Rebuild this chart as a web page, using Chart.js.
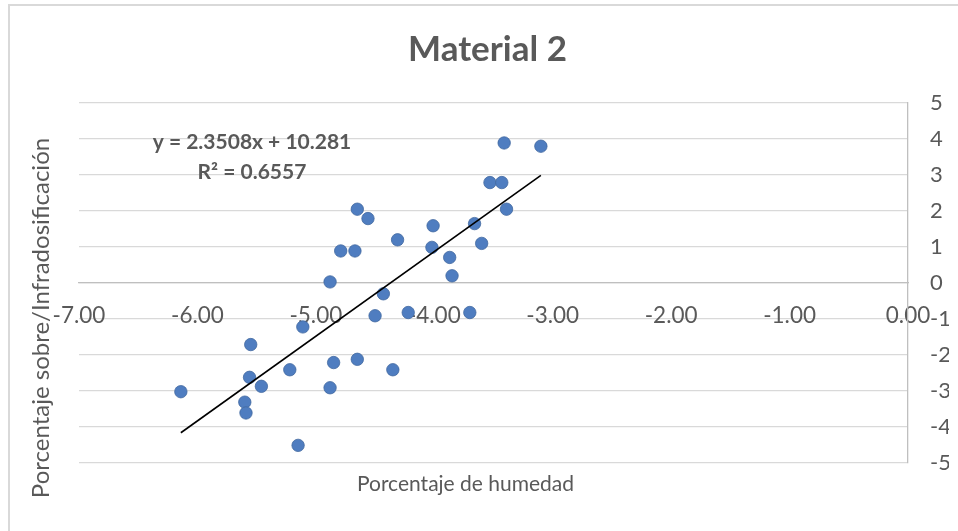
<!DOCTYPE html>
<html>
<head>
<meta charset="utf-8">
<script src="https://cdn.jsdelivr.net/npm/chart.js@4"></script>
<style>
  html, body { margin: 0; padding: 0; background: #fff; }
  #wrap { width: 958px; height: 531px; }
</style>
</head>
<body>
<div id="wrap"><canvas id="myChart" width="958" height="531"></canvas></div>
<script>
// Porcentaje de humedad (x) vs porcentaje sobre/infradosificación (y)
const humedad = [
  -3.41, -3.10, -3.53, -3.43, -3.39, -4.65, -4.56, -4.01, -3.66, -4.31,
  -4.79, -4.67, -4.02, -3.60, -3.87, -3.85, -4.88, -4.43, -4.50, -4.22,
  -3.70, -5.11, -5.55, -4.85, -4.65, -4.35, -5.22, -5.56, -5.46, -6.14,
  -4.88, -5.60, -5.59, -5.15
];
const dosificacion = [
  3.89, 3.80, 2.79, 2.79, 2.05, 2.05, 1.79, 1.59, 1.65, 1.20,
  0.89, 0.89, 0.99, 1.10, 0.71, 0.20, 0.03, -0.30, -0.91, -0.82,
  -0.82, -1.22, -1.71, -2.21, -2.12, -2.41, -2.41, -2.62, -2.87, -3.02,
  -2.91, -3.31, -3.61, -4.51
];

// linear trendline end points as drawn on the chart
const trendX = [-6.14, -3.10];
const trendY = [-4.16, 2.99];

const xTicks = [-7, -6, -5, -4, -3, -2, -1, 0];
const yTicks = [-5, -4, -3, -2, -1, 0, 1, 2, 3, 4, 5];

const titleText = 'Material 2';
const xTitle = 'Porcentaje de humedad';
const yTitle = 'Porcentaje sobre/Infradosificación';
const equation = ['y = 2.3508x + 10.281', 'R\u00B2 = 0.6557'];

const FONT = 'Lato, "Open Sans", sans-serif';
const GRAY = '#595959';

const points = humedad.map((x, i) => ({ x: x, y: dosificacion[i] }));
const trend = trendX.map((x, i) => ({ x: x, y: trendY[i] }));

// chart frame, titles and equation text
const extras = {
  id: 'extras',
  afterDraw(chart) {
    const { ctx, chartArea: a } = chart;
    const cx = (a.left + a.right) / 2;
    const cy = (a.top + a.bottom) / 2;
    ctx.save();
    ctx.strokeStyle = '#d9d9d9';
    ctx.lineWidth = 2;
    ctx.strokeRect(9, 5, chart.width + 10, chart.height + 10);

    ctx.fillStyle = GRAY;
    ctx.textAlign = 'center';
    ctx.textBaseline = 'middle';

    ctx.font = 'bold 35px ' + FONT;
    ctx.fillText(titleText, cx - 6, a.top - 53);

    ctx.font = '21px ' + FONT;
    ctx.fillText(xTitle, cx - 28, a.bottom + 21);

    ctx.save();
    ctx.translate(a.left - 38, cy + 35);
    ctx.rotate(-Math.PI / 2);
    ctx.font = '24px ' + FONT;
    ctx.fillText(yTitle, 0, 0);
    ctx.restore();

    ctx.font = 'bold 21px ' + FONT;
    ctx.fillText(equation[0], a.left + 173, a.top + 39);
    ctx.fillText(equation[1], a.left + 173, a.top + 69);
    ctx.restore();
  }
};

new Chart(document.getElementById('myChart'), {
  type: 'scatter',
  data: {
    datasets: [
      {
        label: 'Tendencia',
        data: trend,
        showLine: true,
        borderColor: '#000000',
        borderWidth: 1.6,
        pointRadius: 0,
        order: 0
      },
      {
        label: 'Material 2',
        data: points,
        backgroundColor: '#4f7dc0',
        borderColor: '#41689f',
        borderWidth: 0.8,
        pointRadius: 6.2,
        order: 1
      }
    ]
  },
  options: {
    responsive: false,
    animation: false,
    layout: { padding: { left: 79, right: 9, top: 103, bottom: 68 } },
    plugins: {
      legend: { display: false },
      tooltip: { enabled: false },
      title: { display: false }
    },
    scales: {
      x: {
        type: 'linear',
        position: { y: 0 },
        min: xTicks[0],
        max: xTicks[xTicks.length - 1],
        afterBuildTicks: (s) => { s.ticks = xTicks.map(v => ({ value: v })); },
        afterFit: (s) => { s.paddingLeft = 0; s.paddingRight = 0; },
        ticks: {
          color: GRAY,
          font: { family: FONT, size: 22.5 },
          padding: 19,
          maxRotation: 0,
          autoSkip: false,
          callback: (v) => v.toFixed(2)
        },
        grid: { display: false, drawTicks: false },
        border: { display: true, color: '#bfbfbf', width: 1.3 }
      },
      y: {
        type: 'linear',
        position: 'right',
        min: yTicks[0],
        max: yTicks[yTicks.length - 1],
        afterBuildTicks: (s) => { s.ticks = yTicks.map(v => ({ value: v })); },
        afterFit: (s) => { s.width = 41; },
        ticks: {
          color: GRAY,
          font: { family: FONT, size: 22 },
          padding: 22,
          autoSkip: false
        },
        grid: { color: '#d9d9d9', lineWidth: 1.3, drawTicks: false },
        border: { display: true, color: '#bfbfbf', width: 1.3 }
      }
    }
  },
  plugins: [extras]
});
</script>
</body>
</html>
